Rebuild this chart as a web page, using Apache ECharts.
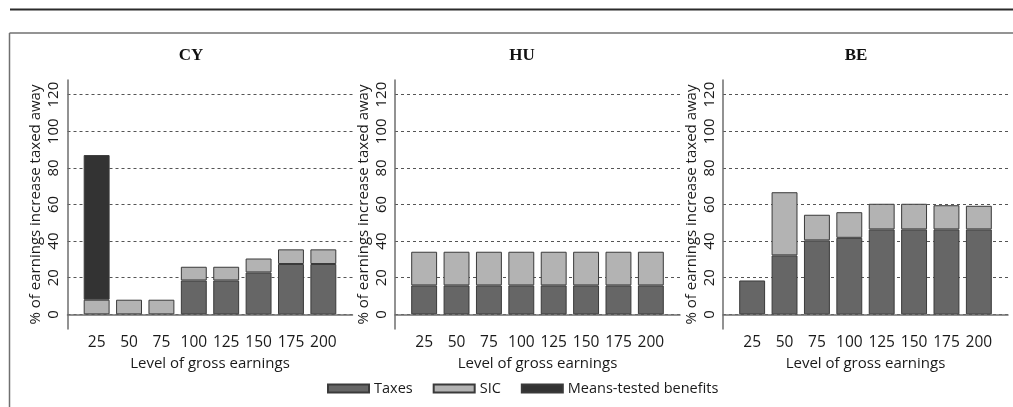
<!DOCTYPE html>
<html>
<head>
<meta charset="utf-8">
<script src="https://cdn.jsdelivr.net/npm/echarts@6/dist/echarts.min.js"></script>
<style>
  html, body { margin: 0; padding: 0; background: #ffffff; }
  #chart { width: 1013px; height: 407px; }
</style>
</head>
<body>
<div id="chart"></div>
<script>
// Gross earnings levels (x categories) shared by all three panels
const earningsLevels = ['25', '50', '75', '100', '125', '150', '175', '200'];
const countries = ['CY', 'HU', 'BE'];
const componentNames = ['Taxes', 'SIC', 'Means-tested benefits'];
const yTickValues = [0, 20, 40, 60, 80, 100, 120];

// % of the earnings increase taxed away, by component
const taxesCY = [0, 0, 0, 18.5, 18.5, 22.9, 27.5, 27.5];
const sicCY   = [8, 8, 8, 7.5, 7.5, 7.6, 8, 8];
const mtbCY   = [79, 0, 0, 0, 0, 0, 0, 0];

const taxesHU = [15.8, 15.8, 15.8, 15.8, 15.8, 15.8, 15.8, 15.8];
const sicHU   = [18.4, 18.4, 18.4, 18.4, 18.4, 18.4, 18.4, 18.4];
const mtbHU   = [0, 0, 0, 0, 0, 0, 0, 0];

const taxesBE = [18.5, 32.2, 40.4, 41.8, 46.4, 46.4, 46.4, 46.4];
const sicBE   = [0, 34.5, 14.0, 14.0, 14.0, 14.0, 13.2, 12.9];
const mtbBE   = [0, 0, 0, 0, 0, 0, 0, 0];

const panelData = [
  [taxesCY, sicCY, mtbCY],
  [taxesHU, sicHU, mtbHU],
  [taxesBE, sicBE, mtbBE]
];

const componentColors = ['#666666', '#b3b3b3', '#333333'];
const textFont = '"Open Sans", "Liberation Sans", sans-serif';
const textColor = '#1a1a1a';

// Panel geometry: the outer frame carries axis lines, grid lines and y labels;
// the inner band holds the category slots, inset so the axis overhangs the bars.
const frameLefts = [67.5, 395, 723];
const frameWidth = 285;
const frameTop = 80;
const frameHeight = 249;
const yMin = -8, yMax = 128;
const edgePad = 0.4;                                  // in slot widths
const slotWidth = frameWidth / (earningsLevels.length + 2 * edgePad);
const titleCenters = [191, 522, 856];

const grids = [], xAxes = [], yAxes = [], series = [], graphics = [];
const textStyle = (size) => ({ fontFamily: textFont, fontSize: size, color: textColor });

countries.forEach((country, p) => {
  const outer = 2 * p, inner = 2 * p + 1;

  // frame grid
  grids.push({ left: frameLefts[p], top: frameTop, width: frameWidth, height: frameHeight });
  xAxes.push({
    type: 'value', gridIndex: outer, min: 0, max: 1,
    axisLine: { show: true, lineStyle: { color: '#6e6e6e', width: 1.5 } },
    axisTick: { show: false }, axisLabel: { show: false }, splitLine: { show: false }
  });
  yAxes.push({
    type: 'value', gridIndex: outer, min: yMin, max: yMax,
    minInterval: 20, maxInterval: 20,
    name: '% of earnings increase taxed away',
    nameLocation: 'middle',
    nameGap: 24,
    nameTextStyle: textStyle(15),
    axisLine: { show: true, lineStyle: { color: '#6e6e6e', width: 1.5 } },
    axisTick: { show: false },
    splitLine: {
      show: true, showMinLine: false, showMaxLine: false,
      lineStyle: { color: '#555555', width: 1, type: [3, 3] }
    },
    axisLabel: Object.assign({
      rotate: 90, margin: 6,
      showMinLabel: false, showMaxLabel: false,
      formatter: v => (yTickValues.indexOf(v) >= 0 ? String(v) : '')
    }, textStyle(15))
  });

  // bar grid
  grids.push({
    left: frameLefts[p] + edgePad * slotWidth,
    top: frameTop,
    width: slotWidth * earningsLevels.length,
    height: frameHeight
  });
  xAxes.push({
    type: 'category', gridIndex: inner, data: earningsLevels, boundaryGap: true,
    name: 'Level of gross earnings',
    nameLocation: 'middle',
    nameGap: 19,
    nameTextStyle: textStyle(15),
    axisLine: { show: false }, axisTick: { show: false }, splitLine: { show: false },
    axisLabel: Object.assign({ margin: 6, interval: 0 }, textStyle(15.5))
  });
  yAxes.push({ type: 'value', gridIndex: inner, min: yMin, max: yMax, show: false, splitLine: { show: false } });

  panelData[p].forEach((values, c) => {
    series.push({
      type: 'bar',
      name: componentNames[c],
      xAxisIndex: inner,
      yAxisIndex: inner,
      stack: 'total' + country,
      barWidth: '80%',
      itemStyle: { color: componentColors[c], borderColor: '#3a3a3a', borderWidth: 1 },
      emphasis: { disabled: true },
      data: values.map(v => (v === 0 ? '-' : v))
    });
  });

  graphics.push({
    type: 'text',
    x: titleCenters[p],
    y: 56,
    style: {
      text: country,
      font: 'bold 17px "Liberation Serif", "DejaVu Serif", serif',
      fill: '#111111',
      textAlign: 'center',
      textVerticalAlign: 'middle'
    }
  });
});

// Page rule and frame lines
graphics.push(
  { type: 'line', shape: { x1: 10, y1: 9.5, x2: 1013, y2: 9.5 }, style: { stroke: '#2b2b2b', lineWidth: 2 } },
  { type: 'line', shape: { x1: 9.5, y1: 33, x2: 1013, y2: 33 }, style: { stroke: '#707070', lineWidth: 1.5 } },
  { type: 'line', shape: { x1: 9.5, y1: 33, x2: 9.5, y2: 407 }, style: { stroke: '#707070', lineWidth: 1.5 } }
);

const chart = echarts.init(document.getElementById('chart'), null, { renderer: 'canvas' });
chart.setOption({
  animation: false,
  backgroundColor: '#ffffff',
  grid: grids,
  xAxis: xAxes,
  yAxis: yAxes,
  series: series,
  legend: {
    data: componentNames,
    left: 322,
    top: 376,
    icon: 'rect',
    itemWidth: 41,
    itemHeight: 8,
    itemGap: 20,
    textStyle: textStyle(14.5)
  },
  graphic: graphics
});
</script>
</body>
</html>
